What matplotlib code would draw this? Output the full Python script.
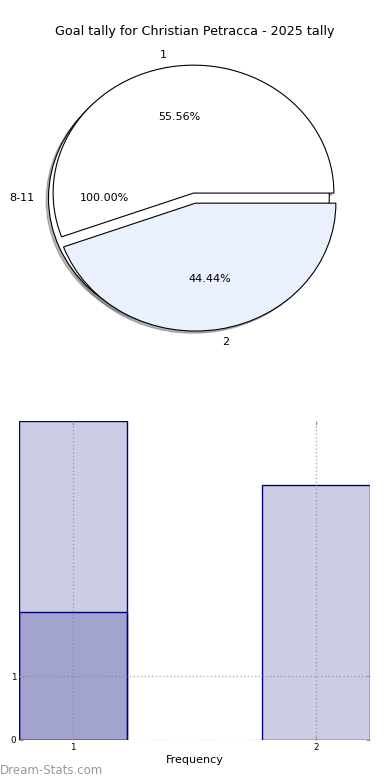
#!/usr/bin/env python3
import matplotlib
matplotlib.use("Agg")
import matplotlib.pyplot as plt

# pie data
full_labels = ["8-11"]
full_values = [1]
slice_labels = ["1", "2"]
slice_values = [5, 4]
slice_colors = ["white", "#eaf0fd"]

# bar data
bar_x = [1, 2]
bar_heights = [5, 4]
overlay_x = [1]
overlay_heights = [2]
xticks = [1, 2]
yticks = [0, 1]

title = "Goal tally for Christian Petracca - 2025 tally"


def main():
    fig = plt.figure(figsize=(3.9, 7.8), dpi=100)
    ax_pie = fig.add_axes([0.0487, 0.541, 0.9, 0.41])
    ax_bar = fig.add_axes([0.0487, 0.0513, 0.9, 0.409])

    draw_pie(ax_pie)
    draw_bars(ax_bar)

    fig.text(0.0, 0.0075, "Dream-Stats.com", color="#999999", fontsize=8.5)
    fig.savefig("out.png", dpi=100)


def draw_pie(ax):
    wedge_style = {"edgecolor": "black", "linewidth": 0.8}
    thin_shadow = {"ox": -0.012, "oy": -0.012, "shade": 0.55}
    # full circle underneath, exploded to the left
    ax.pie(full_values, labels=full_labels, colors=["white"], explode=[0.04],
           autopct="%.2f%%", shadow=thin_shadow, wedgeprops=wedge_style,
           textprops={"fontsize": 8}, startangle=0)
    ax.pie(slice_values, labels=slice_labels, colors=slice_colors,
           explode=[0.04, 0.04], autopct="%.2f%%", shadow=thin_shadow,
           wedgeprops=wedge_style, textprops={"fontsize": 8}, startangle=0)
    ax.set_aspect("auto")
    ax.set_xlim(-1.25, 1.25)
    ax.set_ylim(-1.25, 1.25)
    ax.set_title(title, fontsize=9.2, pad=2)


def draw_bars(ax):
    width = 0.444
    ax.bar(bar_x, bar_heights, width=width, color="navy", alpha=0.2)
    ax.bar(bar_x, bar_heights, width=width, fill=False, edgecolor="navy",
           linewidth=1)
    ax.bar(overlay_x, overlay_heights, width=width, color="navy", alpha=0.2)
    ax.bar(overlay_x, overlay_heights, width=width, fill=False,
           edgecolor="navy", linewidth=1)

    ax.set_xlim(bar_x[0] - width / 2, bar_x[-1] + width / 2)
    ax.set_ylim(0, max(bar_heights))
    ax.set_xticks(xticks)
    ax.set_yticks(yticks)
    ax.grid(True, linestyle=":", color="gray", alpha=0.6, linewidth=1)
    ax.set_axisbelow(False)
    for spine in ax.spines.values():
        spine.set_visible(False)
    ax.tick_params(labelsize=6.3, color="#999999", length=3, direction="in",
                   top=True, right=True, pad=2)
    ax.set_xlabel("Frequency", fontsize=8, labelpad=2)


if __name__ == "__main__":
    main()
